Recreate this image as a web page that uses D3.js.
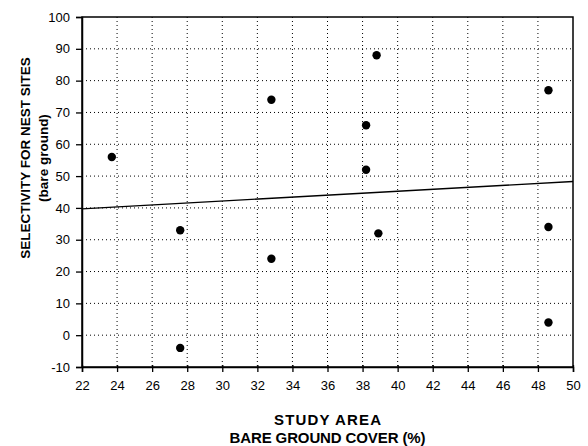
<!DOCTYPE html>
<html><head><meta charset="utf-8">
<script src="https://cdn.jsdelivr.net/npm/d3@7"></script>
<style>body{margin:0;background:#fff}svg{display:block}text{font-family:Arial,"Liberation Sans",sans-serif;fill:#000}</style>
</head><body>
<svg id="c" width="588" height="446"></svg>
<script>
const coverX = [23.7, 27.6, 27.6, 32.8, 32.8, 38.2, 38.2, 38.8, 38.9, 48.6, 48.6, 48.6];
const selectivityY = [56, 33, -4, 74, 24, 66, 52, 88, 32, 77, 34, 4];
const trendX = [22, 50];
const trendY = [39.7, 48.3];
const xTicks = [22,24,26,28,30,32,34,36,38,40,42,44,46,48,50];
const yTicks = [-10,0,10,20,30,40,50,60,70,80,90,100];
const xTitle = ["STUDY AREA", "BARE GROUND COVER (%)"];
const yTitle = ["SELECTIVITY FOR NEST SITES", "(bare ground)"];

const svg = d3.select("#c");
const L = 82, R = 573, T = 17, B = 367;
const x = d3.scaleLinear().domain([22,50]).range([L,R]);
const y = d3.scaleLinear().domain([-10,100]).range([B,T]);
const fmt = d => String(d);

// grid
const g = svg.append("g");
g.selectAll(".gx").data(xTicks.slice(1,-1)).join("line")
  .attr("x1",d=>x(d)).attr("x2",d=>x(d)).attr("y1",T).attr("y2",B)
  .attr("stroke","#000").attr("stroke-width",1).attr("stroke-dasharray","1,3");
g.selectAll(".gy").data(yTicks.slice(1,-1)).join("line")
  .attr("y1",d=>y(d)).attr("y2",d=>y(d)).attr("x1",L).attr("x2",R)
  .attr("stroke","#000").attr("stroke-width",1).attr("stroke-dasharray","1,3");

// border
svg.append("rect").attr("x",L).attr("y",T).attr("width",R-L).attr("height",B-T)
  .attr("fill","none").attr("stroke","#000").attr("stroke-width",1.5);

// axes
const xa = svg.append("g").attr("transform",`translate(0,${B})`)
  .call(d3.axisBottom(x).tickValues(xTicks).tickFormat(fmt).tickSizeOuter(0).tickSize(5).tickPadding(9));
xa.select(".domain").attr("stroke-width",1.5);
xa.selectAll(".tick line").attr("y1",-2).attr("stroke-width",1.3);
xa.selectAll("text").attr("font-size",13).attr("font-family","Arial, Liberation Sans, sans-serif");

const ya = svg.append("g").attr("transform",`translate(${L},0)`)
  .call(d3.axisLeft(y).tickValues(yTicks).tickFormat(fmt).tickSizeOuter(0).tickSize(6).tickPadding(6));
ya.select(".domain").attr("stroke-width",1.5);
ya.selectAll(".tick line").attr("stroke-width",1.3);
ya.selectAll("text").attr("font-size",13).attr("font-family","Arial, Liberation Sans, sans-serif");

// trend line
svg.append("path").datum(trendX.map((d,i)=>[d,trendY[i]]))
  .attr("d",d3.line().x(d=>x(d[0])).y(d=>y(d[1])))
  .attr("fill","none").attr("stroke","#000").attr("stroke-width",1.4);

// points
svg.selectAll(".pt").data(coverX.map((d,i)=>[d,selectivityY[i]])).join("circle")
  .attr("cx",d=>x(d[0])).attr("cy",d=>y(d[1])).attr("r",4.2).attr("fill","#000");

// titles
svg.append("text").attr("x",(L+R)/2).attr("y",425).attr("text-anchor","middle")
  .attr("font-weight","bold").attr("font-size",15).attr("textLength",107).text(xTitle[0]);
svg.append("text").attr("x",(L+R)/2).attr("y",443).attr("text-anchor","middle")
  .attr("font-weight","bold").attr("font-size",15).attr("textLength",196).text(xTitle[1]);
svg.append("text").attr("transform","translate(30,158) rotate(-90)").attr("text-anchor","middle")
  .attr("font-weight","bold").attr("font-size",13.5).text(yTitle[0]);
svg.append("text").attr("transform","translate(48,158) rotate(-90)").attr("text-anchor","middle")
  .attr("font-weight","bold").attr("font-size",13.5).text(yTitle[1]);
</script>
</body></html>
